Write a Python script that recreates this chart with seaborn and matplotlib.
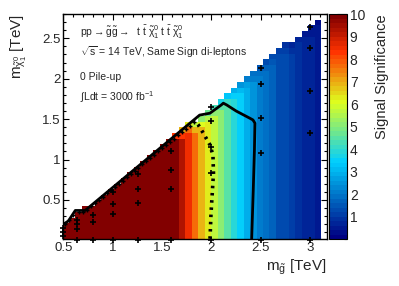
import numpy as np
import matplotlib
matplotlib.use("Agg")
import matplotlib.pyplot as plt
import seaborn as sns
from matplotlib.colors import LinearSegmentedColormap, ListedColormap, Normalize
from matplotlib.ticker import MultipleLocator

# significance per gluino-mass column (left columns are saturated, > 10)
sig_col = [60, 55, 50, 46, 42, 38, 35, 32, 29, 27, 25, 23, 21, 19, 17, 15.5, 13, 11,
           9.3, 8.5, 7.7, 6.8, 6.2, 5.7, 5.0, 4.5, 3.8, 3.4, 2.9, 2.4, 2.0, 1.8,
           1.6, 1.4, 1.2, 1.0, 0.9, 0.7, 0.6, 0.45]
# highest neutralino mass filled in each column (TeV)
chi_max = [0.20, 0.30, 0.355, 0.39, 0.45, 0.52, 0.58, 0.65, 0.72, 0.78, 0.85, 0.91,
           0.98, 1.04, 1.11, 1.17, 1.24, 1.30, 1.37, 1.44, 1.50, 1.57, 1.63, 1.70,
           1.76, 1.83, 1.89, 1.96, 2.03, 2.09, 2.16, 2.22, 2.29, 2.35, 2.42, 2.48,
           2.55, 2.62, 2.68, 2.75]
# drop of significance in the top rows next to the diagonal
diag_factor = [0.75, 0.9]

# contours
solid_g = [2.407, 2.423, 2.435, 2.44, 2.42, 2.39, 2.25, 2.153, 2.12, 2.10, 1.984, 1.88, 0.72, 0.62, 0.55, 0.50]
solid_chi = [0.02, 0.62, 1.12, 1.45, 1.49, 1.51, 1.60, 1.676, 1.697, 1.676, 1.573, 1.55, 0.37, 0.37, 0.24, 0.20]
dot_g = [1.985, 1.995, 2.02, 2.015, 1.985, 1.92, 1.865, 1.83]
dot_chi = [0.02, 0.33, 0.83, 1.05, 1.18, 1.32, 1.43, 1.48]

# signal points
pts_g = [0.5, 0.5, 0.5, 0.64, 0.64, 0.64, 0.64, 0.80, 0.80, 0.80,
         1.0, 1.0, 1.0, 1.0, 1.258, 1.258, 1.258, 1.258, 1.59, 1.59, 1.59, 1.59,
         2.0, 2.0, 2.0, 2.0, 2.0, 2.5, 2.5, 2.5, 2.5, 2.5, 3.0, 3.0, 3.0, 3.0, 3.0]
pts_chi = [0.15, 0.10, 0.06, 0.25, 0.20, 0.145, 0.01, 0.31, 0.23, 0.01,
           0.60, 0.45, 0.33, 0.01, 0.82, 0.64, 0.46, 0.01, 1.10, 0.87, 0.63, 0.01,
           1.65, 1.48, 1.16, 0.83, 0.01, 2.13, 1.94, 1.51, 1.08, 0.01, 2.64, 2.38, 1.85, 1.33, 0.01]
# compressed points along the diagonal
diag_g = [0.52, 0.56, 0.60, 0.66, 0.70, 0.74, 0.78, 0.82, 0.86, 0.90, 0.94, 0.98, 1.02,
          1.06, 1.10, 1.14, 1.18, 1.22, 1.26, 1.30, 1.34, 1.38, 1.42, 1.46, 1.50,
          1.54, 1.58, 1.62, 1.66, 1.70, 1.74, 1.78, 1.82]
diag_chi = [0.20, 0.25, 0.31, 0.35, 0.35, 0.38, 0.42, 0.46, 0.50, 0.54, 0.58, 0.62, 0.66,
            0.70, 0.74, 0.78, 0.82, 0.86, 0.90, 0.94, 0.98, 1.02, 1.06, 1.10, 1.14,
            1.18, 1.22, 1.26, 1.30, 1.34, 1.38, 1.42, 1.46]

g_edges = np.linspace(0.491, 0.491 + 0.0655 * 40, 41)
c_edges = np.linspace(0.0, 2.80, 41)
c_mid = 0.5 * (c_edges[1:] + c_edges[:-1])

Z = np.full((40, 40), np.nan)
for i in range(40):
    rows = np.where(c_mid < chi_max[i])[0]
    Z[rows, i] = sig_col[i]
    for k, f in enumerate(diag_factor):
        if k < len(rows):
            Z[rows[-1 - k], i] = sig_col[i] * f
Z = np.ma.masked_invalid(Z)

sns.set_theme(style="ticks")
plt.rcParams['font.family'] = ['Liberation Sans', 'DejaVu Sans']
plt.rcParams['mathtext.fontset'] = 'custom'
plt.rcParams['mathtext.rm'] = 'Liberation Sans'
plt.rcParams['mathtext.it'] = 'Liberation Sans'
plt.rcParams['mathtext.bf'] = 'Liberation Sans'

base = LinearSegmentedColormap.from_list(
    "rootrb",
    [(0.00, (0.00, 0.00, 0.51)), (0.34, (0.00, 0.81, 1.00)),
     (0.61, (0.87, 1.00, 0.12)), (0.84, (1.00, 0.20, 0.00)),
     (1.00, (0.51, 0.00, 0.00))])
cmap = ListedColormap(base(np.linspace(0, 1, 50)))
norm = Normalize(0, 10)

fig = plt.figure(figsize=(3.99, 2.86), dpi=100)
ax = fig.add_axes([0.159, 0.1643, 0.6605, 0.7867])
mesh = ax.pcolormesh(g_edges, c_edges, Z, cmap=cmap, norm=norm)

sns.lineplot(x=solid_g, y=solid_chi, sort=False, estimator=None, color="black",
             lw=2.0, ax=ax)
sns.lineplot(x=dot_g, y=dot_chi, sort=False, estimator=None, color="black",
             lw=2.6, linestyle=(0, (0.7, 1.3)), ax=ax)
sns.scatterplot(x=pts_g, y=pts_chi, marker="+", color="black", s=22, linewidth=1.2,
                ax=ax, clip_on=False, zorder=5)
sns.scatterplot(x=diag_g, y=diag_chi, marker="+", color="black", s=12, linewidth=1.0,
                ax=ax, zorder=5)

ax.set_xlim(0.5, 3.17)
ax.set_ylim(0.017, 2.80)
ax.xaxis.set_major_locator(MultipleLocator(0.5))
ax.xaxis.set_minor_locator(MultipleLocator(0.1))
ax.yaxis.set_major_locator(MultipleLocator(0.5))
ax.yaxis.set_minor_locator(MultipleLocator(0.1))
ax.set_xticks([0.5, 1, 1.5, 2, 2.5, 3])
ax.set_xticklabels(["0.5", "1", "1.5", "2", "2.5", "3"])
ax.set_yticks([0.5, 1, 1.5, 2, 2.5])
ax.set_yticklabels(["0.5", "1", "1.5", "2", "2.5"])
ax.tick_params(which="both", direction="in", top=True, right=True, width=0.8,
               labelsize=9.5, pad=2, color="black")
ax.tick_params(which="major", length=4)
ax.tick_params(which="minor", length=2)
for s in ax.spines.values():
    s.set_linewidth(1.0)
    s.set_color("black")

ax.set_xlabel(r"m$_{\tilde{\rm g}}$ [TeV]", fontsize=11, loc="right")
ax.xaxis.set_label_coords(1.0, -0.085)
ax.set_ylabel(r"m$_{\tilde{\chi}^0_1}$ [TeV]", fontsize=11, loc="top")
ax.yaxis.set_label_coords(-0.13, 1.0)

tx = 0.063
ax.text(tx, 0.92, r"pp$\rightarrow\tilde{\rm g}\tilde{\rm g}\rightarrow$  t $\bar{\rm t}$ $\tilde{\chi}^0_1$ t $\bar{\rm t}$ $\tilde{\chi}^0_1$",
        transform=ax.transAxes, fontsize=7.5, va="center")
ax.text(tx, 0.831, r"$\sqrt{\rm s}$ = 14 TeV, Same Sign di-leptons",
        transform=ax.transAxes, fontsize=7.5, va="center")
ax.text(tx, 0.72, "0 Pile-up", transform=ax.transAxes, fontsize=7.5, va="center")
ax.text(tx, 0.631, r"$\int$Ldt = 3000 fb$^{-1}$", transform=ax.transAxes,
        fontsize=7.5, va="center")

cax = fig.add_axes([0.8246, 0.1643, 0.0451, 0.7867])
cb = fig.colorbar(mesh, cax=cax)
cb.set_ticks(range(1, 11))
cb.ax.yaxis.set_minor_locator(MultipleLocator(0.2))
cax.tick_params(which="both", direction="in", right=True, left=False, labelsize=10,
                pad=2, color="black", width=0.8)
cax.tick_params(which="major", length=7)
cax.tick_params(which="minor", length=2.5)
cb.outline.set_linewidth(0.8)
cb.outline.set_edgecolor("black")
cb.set_label("Signal Significance", fontsize=10.5, loc="top")
cax.yaxis.set_label_coords(2.55, 1.0)

fig.savefig("out.png", dpi=100)
